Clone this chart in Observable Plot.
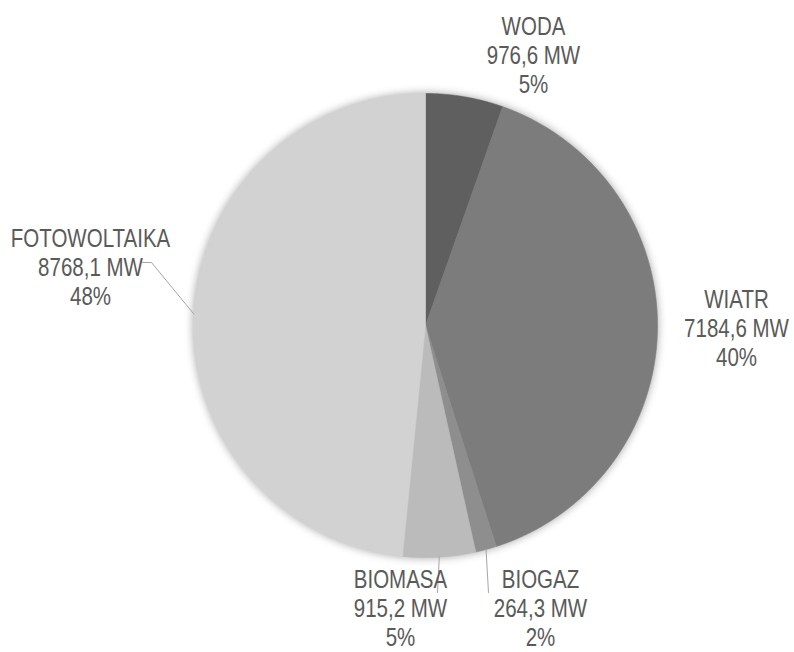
<!DOCTYPE html>
<html>
<head>
<meta charset="utf-8">
<script src="https://cdn.jsdelivr.net/npm/d3@7"></script>
<script src="https://cdn.jsdelivr.net/npm/@observablehq/plot@0.6"></script>
<style>
  html, body { margin: 0; padding: 0; background: #ffffff; }
  #chart svg { display: block; }
  g[aria-label="line"].slices { filter: drop-shadow(0px 0px 4px rgba(0,0,0,0.35)); }
</style>
</head>
<body>
<div id="chart"></div>
<script>
// ---- data ----
const categories = ["WODA", "WIATR", "BIOGAZ", "BIOMASA", "FOTOWOLTAIKA"];
const valuesMW   = [976.6, 7184.6, 264.3, 915.2, 8768.1];
const valueLabels = ["976,6 MW", "7184,6 MW", "264,3 MW", "915,2 MW", "8768,1 MW"];
const percentLabels = ["5%", "40%", "2%", "5%", "48%"];

// ---- styles / layout ----
const colors = ["#5f5f5f", "#7c7c7c", "#8e8e8e", "#bbbbbb", "#d2d2d2"];
const W = 794, H = 652;
const center = {x: 425, y: 325};
const radius = 232;
// label block anchors (middle line) per category
const labelAnchor = [
  {x: 533, y: 54},
  {x: 736, y: 327},
  {x: 540, y: 607},
  {x: 400, y: 607},
  {x: 90,  y: 266}
];
// end of leader lines (null = no leader)
const leaderEnd = [
  null,
  null,
  [{x: 488, y: 592}],
  [{x: 437, y: 592}],
  [{x: 151, y: 262}, {x: 142, y: 262}]
];

const arcs = d3.pie().sort(null).startAngle(0).endAngle(2 * Math.PI)(valuesMW);
const pt = (a, r) => ({x: center.x + r * Math.sin(a), y: center.y - r * Math.cos(a)});

// slice polygons computed from pie angles
const slicePts = [];
arcs.forEach((a, i) => {
  const name = categories[i];
  slicePts.push({name, ...center});
  const n = Math.max(2, Math.ceil((a.endAngle - a.startAngle) / (Math.PI / 360)));
  for (let k = 0; k <= n; k++) {
    const ang = a.startAngle + (a.endAngle - a.startAngle) * k / n;
    slicePts.push({name, ...pt(ang, radius)});
  }
  slicePts.push({name, ...center});
});

// leader lines start at slice mid-angle on the rim
const leaderPts = [];
arcs.forEach((a, i) => {
  if (!leaderEnd[i]) return;
  const mid = (a.startAngle + a.endAngle) / 2;
  leaderPts.push({name: categories[i], ...pt(mid, radius)});
  leaderEnd[i].forEach(p => leaderPts.push({name: categories[i], ...p}));
});

const labels = categories.map((c, i) => ({
  text: `${c}\n${valueLabels[i]}\n${percentLabels[i]}`,
  ...labelAnchor[i]
}));

const plot = Plot.plot({
  width: W,
  height: H,
  margin: 0,
  x: {domain: [0, W], range: [0, W], axis: null},
  y: {domain: [0, H], range: [0, H], axis: null},
  color: {domain: categories, range: colors},
  style: {background: "#ffffff"},
  marks: [
    Plot.line(slicePts, {x: "x", y: "y", z: "name", fill: "name", stroke: "name", strokeWidth: 0.6, curve: "linear", className: "slices"}),
    Plot.line(leaderPts, {x: "x", y: "y", z: "name", stroke: "#a6a6a6", strokeWidth: 1}),
    Plot.text(labels, {
      x: "x", y: "y", text: "text",
      textAnchor: "middle", lineAnchor: "middle", lineHeight: 1.16,
      fontSize: 25, fill: "#5a5a5a",
      fontFamily: "'Liberation Sans', Arial, sans-serif"
    })
  ]
});
// condense the label glyphs horizontally (narrow typeface look)
plot.querySelectorAll('g[aria-label="text"] text').forEach(t => {
  const tr = t.getAttribute("transform") || "";
  t.setAttribute("transform", tr + " scale(0.82,1)");
});
document.getElementById("chart").appendChild(plot);
</script>
</body>
</html>
